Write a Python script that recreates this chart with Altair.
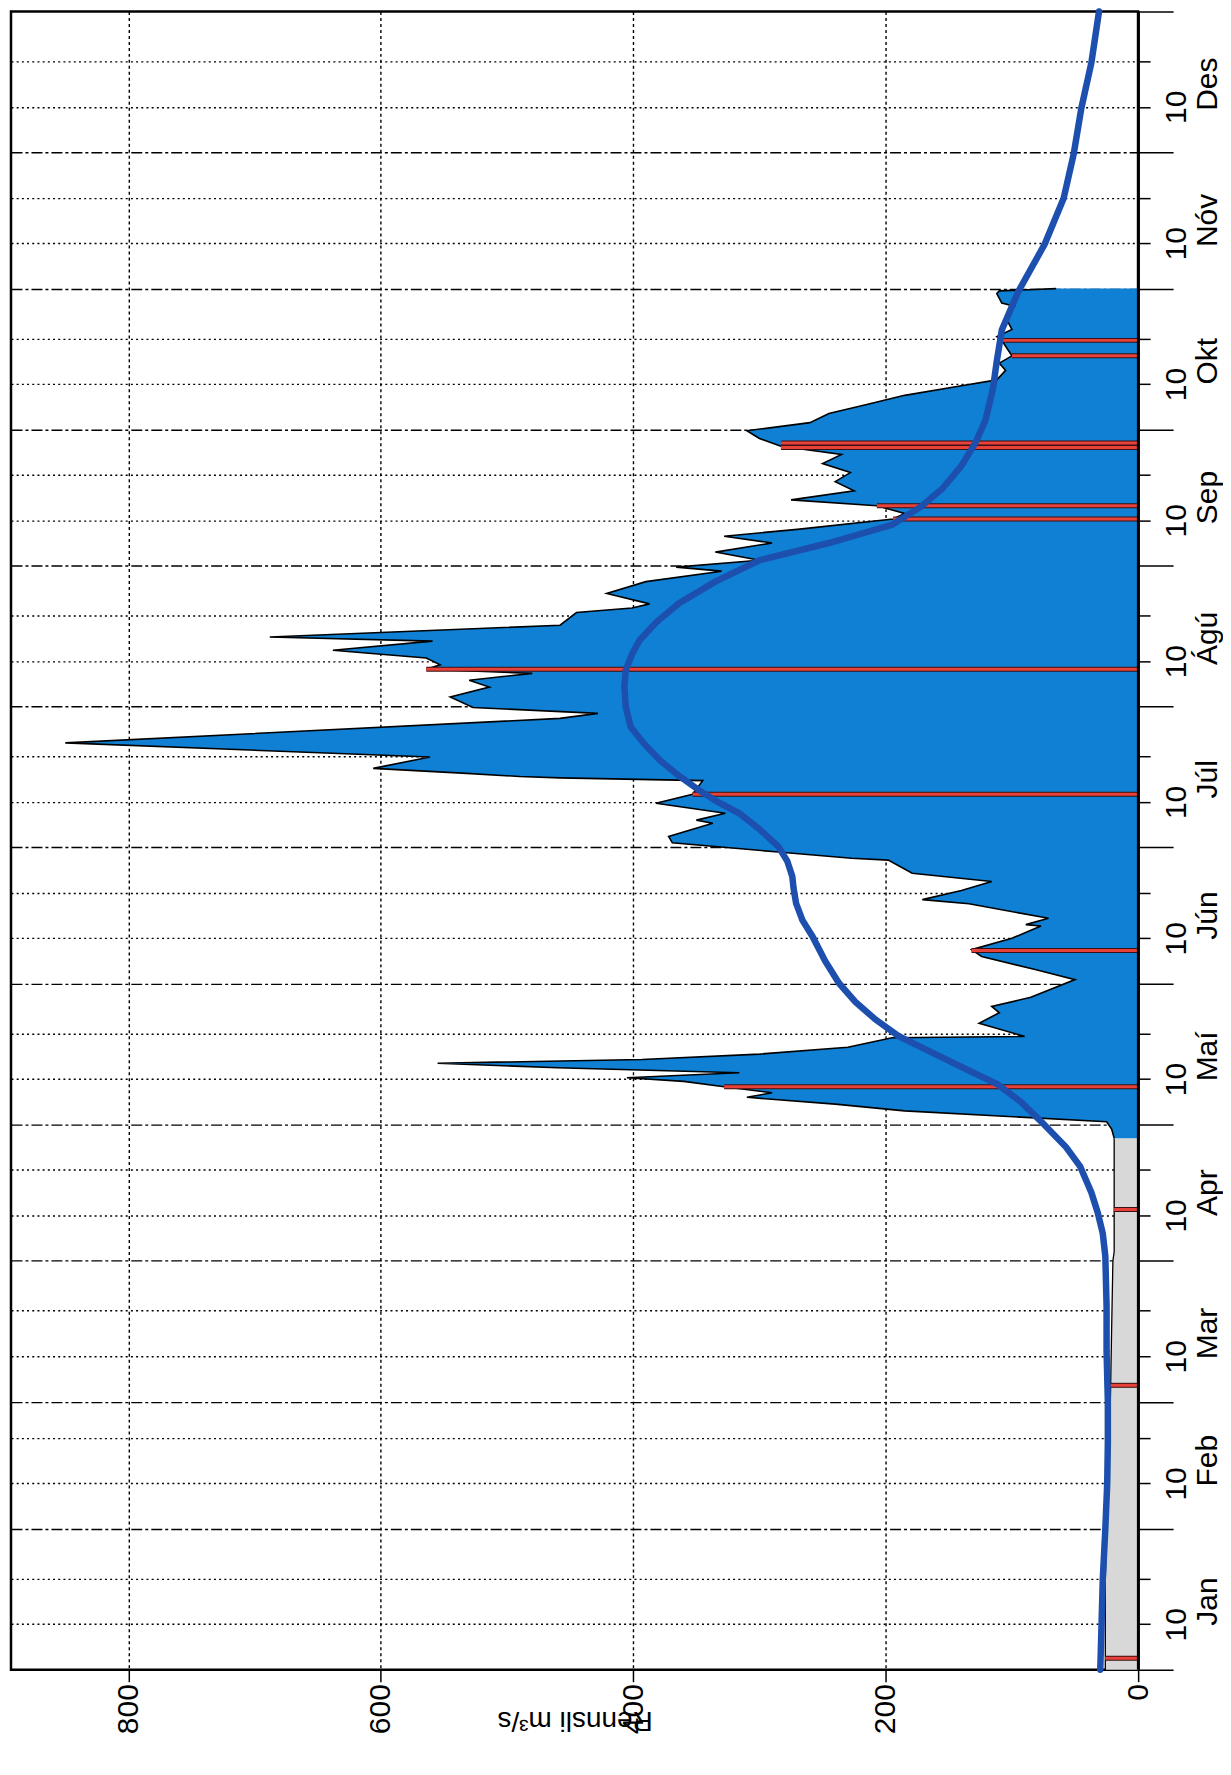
import altair as alt
import pandas as pd

# ---------------- data ----------------
month_names = ["Jan", "Feb", "Mar", "Apr", "Maí", "Jún", "Júl", "Ágú", "Sep", "Okt", "Nóv", "Des"]
month_starts = [0, 31, 59, 90, 120, 151, 181, 212, 243, 273, 304, 334, 365]

# ice-affected period (grey)
ice_t = [0, 10, 20, 31, 45, 59, 75, 90, 92, 105, 117]
ice_q = [26, 26, 26, 25, 24, 22, 21, 20, 19, 19, 19]

# daily discharge, open water period (blue)
flow_t = [117, 119, 120.6, 123, 124.5, 126, 127, 128.3, 129.5, 130.3, 131.4, 132.5, 133.5,
          134.3, 135.5, 137, 139.1, 139.4, 142.3, 144.6, 146, 148, 151.9, 154, 157, 158.5,
          161, 163.7, 164, 165.4, 168.6, 169.5, 171.5, 173.5, 175.3, 178.2, 178.6, 180.1,
          182, 183.4, 186.3, 187, 188.5, 190.7, 192.7, 195.7, 196.3, 196.6, 197.3, 198.4,
          200.9, 204.0, 209.4, 210.5, 211.8, 214.1, 216.3, 217.8, 219.3, 220.2, 221.2,
          222.7, 224.4, 226.4, 227.3, 229.9, 232.7, 233.7, 234.6, 236.9, 239.5, 241.8,
          242.7, 244.2, 246, 248, 249.5, 251, 253.3, 254.5, 256.2, 257.5, 259.5, 261.5,
          263.5, 265.5, 267.5, 269.3, 271, 272.7, 274.5, 276.5, 278.5, 280.5, 282.6,
          283.9, 286, 287.6, 289.2, 291.3, 292.6, 293.4, 295, 297.6, 300.1, 300.8, 302.9,
          303.5, 304]
flow_q = [19, 21, 25, 185, 240, 310, 290, 328, 360, 405, 316, 460, 555,
          393, 300, 230, 195, 90, 126, 110, 116, 85, 50, 80, 124, 132,
          100, 77, 89, 71, 134, 171, 140, 116, 179, 198, 227, 290,
          369, 372, 337, 350, 327, 382, 353, 345, 458, 490, 532, 606,
          561, 850, 458, 428, 527, 545, 514, 530, 480, 564, 553,
          564, 638, 559, 688, 458, 445, 401, 387, 421, 390, 330,
          366, 300, 335, 290, 328, 270, 194, 185, 207, 275, 225, 240,
          228, 250, 235, 283, 300, 310, 260, 245, 215, 185, 140,
          112, 105, 110, 100, 105, 108, 112, 100, 105, 98, 108, 112,
          110, 65]

# measurements (red lines)
meas_t = [2.5, 62.6, 101.3, 128.3, 158.3, 192.7, 220.2, 253.3, 256.2, 269.0, 270.0, 289.2, 292.6]
meas_q = [26, 22, 19, 328, 132, 353, 564, 194, 207, 283, 283, 100, 108]

# long-term mean daily discharge (dark blue curve)
mean_t = [0, 10, 20, 31, 41, 50, 59, 70, 80, 91, 96, 100.6, 105, 110.8, 115, 120.7, 125,
          128.8, 132, 136.5, 139.5, 143.1, 147, 151.1, 156, 161.4, 165, 168.7, 172, 174.6,
          178, 181.2, 185, 188.5, 191, 193.6, 197, 200.2, 204, 207.5, 212, 216.3, 220,
          223.5, 226.6, 230.5, 234.7, 239.5, 244.2, 248, 252, 256, 260, 265, 270, 275,
          282, 288, 294.9, 303.3, 313.8, 323.9, 333.7, 343.7, 353.8, 365]
mean_q = [30, 29, 28, 26, 24.5, 24, 24, 25, 25, 26, 28, 32, 37, 46, 57, 77, 93,
          111, 135, 168, 190, 208, 224, 237, 248, 258, 266, 271, 273, 274,
          278, 285, 300, 316, 333, 348, 365, 379, 392, 402, 406, 407, 406,
          401, 395, 382, 364, 335, 300, 245, 195, 172, 155, 140, 129, 121,
          115, 112, 108, 95, 74, 59, 51, 45, 37, 31]

# ---------------- tables ----------------
ice = pd.DataFrame({"t": ice_t, "q": ice_q})
flow = pd.DataFrame({"t": flow_t, "q": flow_q})
meas = pd.DataFrame({"t": meas_t, "q": meas_q, "z": [0] * len(meas_t)})
mean = pd.DataFrame({"t": mean_t, "q": mean_q})
months = pd.DataFrame({"name": month_names, "mid": [s + 15 for s in month_starts[:-1]]})
zero = pd.DataFrame({"q": [0], "t0": [0], "t1": [365]})

W, H = 1129, 1661
QMAX = 893
FONT = "Liberation Sans"
BLUE = "#0f80d4"
MEAN = "#1d4fae"
RED = "#e8413a"

tick_vals = sorted(month_starts + [s + 10 for s in month_starts[:-1]] + [s + 20 for s in month_starts[:-1]])
ms = ",".join(str(v) for v in month_starts)
d10 = ",".join(str(s + 10) for s in month_starts[:-1])
is_month = f"indexof([{ms}], datum.value) >= 0"
is_edge = "datum.value == 0 || datum.value == 365"

xscale = alt.Scale(domain=[0, QMAX], reverse=True, nice=False, zero=False)
yscale = alt.Scale(domain=[0, 365], nice=False, zero=False)

xaxis = alt.Axis(values=[0, 200, 400, 600, 800], labelAngle=270, labelFontSize=30, labelFont=FONT,
                 labelColor="black", tickSize=12, tickColor="black", tickWidth=1.5, labelPadding=2,
                 grid=True, gridDash=[3, 3], gridColor="black", gridWidth=1.4,
                 gridOpacity={"condition": {"test": "datum.value == 0", "value": 0}, "value": 1},
                 domain=False, title="Rennsli  m³/s", titleAngle=180, titleFontSize=28,
                 titleFont=FONT, titleFontWeight="normal", titleColor="black", titlePadding=0)

yaxis = alt.Axis(orient="right", values=tick_vals, grid=True, gridColor="black",
                 gridOpacity={"condition": {"test": is_edge, "value": 0}, "value": 1},
                 gridWidth=1.4,
                 gridDash={"condition": {"test": is_month, "value": [11, 3, 3, 3]}, "value": [2, 3.2]},
                 tickSize={"condition": {"test": is_month, "value": 35}, "value": 12},
                 tickColor="black", tickWidth=1.5,
                 labelExpr=f"indexof([{d10}], datum.value) >= 0 ? '10' : ''",
                 labelAngle=270, labelAlign="center", labelBaseline="top", labelPadding=11,
                 labelFontSize=30, labelFont=FONT, labelColor="black",
                 domain=True, domainColor="black", domainWidth=2.5)

X = lambda: alt.X("q:Q", scale=xscale, axis=xaxis)
Y = lambda: alt.Y("t:Q", scale=yscale, axis=yaxis, title=None)

ice_area = alt.Chart(ice).mark_area(orient="horizontal", color="#d8d8d8").encode(x=X(), y=Y())
ice_line = alt.Chart(ice).mark_line(color="black", strokeWidth=1.3).encode(x=X(), y=Y(), order="t:Q")
flow_area = alt.Chart(flow).mark_area(orient="horizontal", color=BLUE).encode(x=X(), y=Y())
flow_line = alt.Chart(flow).mark_line(color="black", strokeWidth=1.6).encode(x=X(), y=Y(), order="t:Q")
meas_dark = alt.Chart(meas).mark_rule(color="#3a1010", strokeWidth=5).encode(x=X(), x2="z:Q", y=Y())
meas_red = alt.Chart(meas).mark_rule(color=RED, strokeWidth=3).encode(x=X(), x2="z:Q", y=Y())
mean_line = alt.Chart(mean).mark_line(color=MEAN, strokeWidth=6.5, strokeCap="round").encode(
    x=X(), y=Y(), order="t:Q")
frame_r = alt.Chart(zero).mark_rule(color="black", strokeWidth=2.5).encode(
    x=X(), y=alt.Y("t0:Q", scale=yscale, axis=yaxis, title=None), y2="t1:Q")
month_text = alt.Chart(months).mark_text(angle=270, align="center", baseline="top", fontSize=30,
                                         font=FONT, color="black").encode(
    y=alt.Y("mid:Q", scale=yscale, axis=yaxis, title=None), x=alt.value(W + 55), text="name:N")

chart = alt.layer(ice_area, ice_line, flow_area, flow_line, meas_dark, meas_red, mean_line,
                  frame_r, month_text).properties(
    width=W, height=H, padding={"left": 3, "top": 2, "right": 85, "bottom": 100},
    autosize=alt.AutoSizeParams(type="none"), background="white"
).configure_view(stroke="black", strokeWidth=2.5)

chart.save("out.html", embed_options={"renderer": "svg", "actions": False})
